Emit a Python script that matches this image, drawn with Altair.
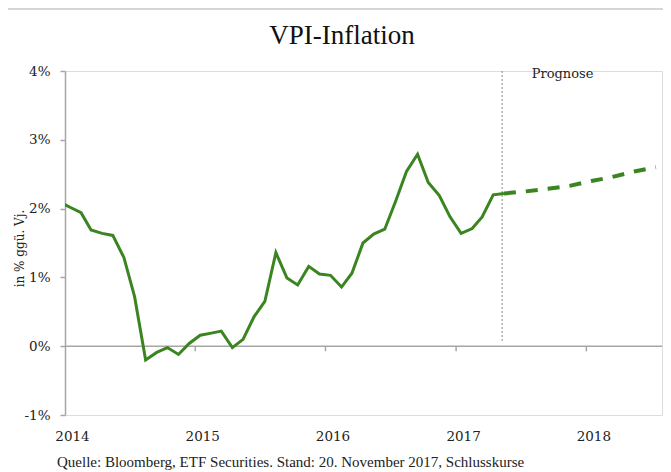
import altair as alt
import pandas as pd

# ---------------- data ----------------
actual_months = [
    "2013-12", "2014-01", "2014-02", "2014-03", "2014-04", "2014-05", "2014-06",
    "2014-07", "2014-08", "2014-09", "2014-10", "2014-11", "2014-12",
    "2015-01", "2015-02", "2015-03", "2015-04", "2015-05", "2015-06",
    "2015-07", "2015-08", "2015-09", "2015-10", "2015-11", "2015-12",
    "2016-01", "2016-02", "2016-03", "2016-04", "2016-05", "2016-06",
    "2016-07", "2016-08", "2016-09", "2016-10", "2016-11", "2016-12",
    "2017-01", "2017-02", "2017-03", "2017-04", "2017-05",
]
actual_values = [
    2.10, 2.02, 1.94, 1.69, 1.64, 1.61, 1.29, 0.72, -0.20, -0.09, -0.02, -0.12,
    0.04, 0.16, 0.19, 0.22, -0.02, 0.10, 0.43, 0.65, 1.36, 0.99, 0.89, 1.16,
    1.05, 1.03, 0.86, 1.06, 1.50, 1.63, 1.70, 2.10, 2.54, 2.79, 2.38, 2.19,
    1.88, 1.64, 1.71, 1.88, 2.20, 2.22,
]
forecast_months = ["2017-05", "2017-07", "2017-09", "2017-11", "2018-01",
                   "2018-03", "2018-05", "2018-07"]
forecast_values = [2.22, 2.25, 2.29, 2.33, 2.40, 2.46, 2.54, 2.60]

year_labels = ["2014", "2015", "2016", "2017", "2018"]
y_ticks = [-1, 0, 1, 2, 3, 4]
forecast_start = "2017-05-10"

title_text = "VPI-Inflation"
y_title = "in % ggü. Vj."
forecast_label = "Prognose"
source_text = "Quelle: Bloomberg, ETF Securities. Stand: 20. November 2017, Schlusskurse"

# ---------------- tables ----------------
df_actual = pd.DataFrame({"datum": [m + "-15" for m in actual_months], "wert": actual_values})
df_forecast = pd.DataFrame({"datum": [m + "-15" for m in forecast_months], "wert": forecast_values})
df_years = pd.DataFrame({"datum": [y + "-01-01" for y in year_labels[1:]]})
df_one = pd.DataFrame({"datum": [forecast_start]})

GREEN = "#3a8520"
GREY = "#a6a6a6"
W, H = 597, 344

x_scale = alt.Scale(domain=[alt.DateTime(year=2014, month=1, date=1),
                            alt.DateTime(year=2018, month=8, date=1)])
y_scale = alt.Scale(domain=[-1, 4], nice=False, zero=False)

x_axis = alt.Axis(
    values=[alt.DateTime(year=int(y), month=1, date=1) for y in year_labels],
    format="%Y", domain=False, ticks=False, tickSize=0, grid=False,
    labelFont="DejaVu Serif", labelFontSize=13.5, labelColor="#222",
    labelPadding=14, labelOffset=7, labelAlign="center", labelFlush=False, title=None,
)
y_axis = alt.Axis(
    values=y_ticks, labelExpr="datum.value + '%'", grid=False,
    domainColor=GREY, domainWidth=1.5, tickColor=GREY, tickWidth=1.5, tickSize=5,
    labelFont="DejaVu Serif", labelFontSize=13.5, labelColor="#222", labelPadding=10,
    title=y_title, titleFont="DejaVu Serif", titleFontSize=12, titleFontWeight="normal",
    titleColor="#222", titleX=-46, titleY=177, titleAngle=270,
    titleAlign="center", titleBaseline="middle",
)

line_actual = alt.Chart(df_actual).mark_line(
    color=GREEN, strokeWidth=3, clip=True
).encode(
    x=alt.X("datum:T", scale=x_scale, axis=x_axis),
    y=alt.Y("wert:Q", scale=y_scale, axis=y_axis),
)

line_forecast = alt.Chart(df_forecast).mark_line(
    color=GREEN, strokeWidth=4, strokeDash=[12, 10], clip=True
).encode(x="datum:T", y="wert:Q")

zero_rule = alt.Chart(df_one).mark_rule(color=GREY, strokeWidth=1.5).encode(
    y=alt.datum(0)
)
year_ticks = alt.Chart(df_years).mark_rule(color=GREY, strokeWidth=1.5).encode(
    x="datum:T", y=alt.datum(0), y2=alt.datum(-0.075)
)
vline = alt.Chart(df_one).mark_rule(color="#888", strokeWidth=1, strokeDash=[2, 2]).encode(
    x="datum:T", y=alt.datum(4), y2=alt.datum(0.06)
)
prognose = alt.Chart(pd.DataFrame({"datum": ["2017-08-01"], "t": [forecast_label]})).mark_text(
    font="DejaVu Serif", fontSize=13, color="#222", align="left", baseline="middle"
).encode(x="datum:T", y=alt.datum(3.95), text="t:N")

title_mark = alt.Chart(df_one).mark_text(
    text=title_text, font="Liberation Serif", fontSize=27, color="#111",
    align="center", baseline="alphabetic"
).encode(x=alt.value(277), y=alt.value(-27))

source_mark = alt.Chart(df_one).mark_text(
    text=source_text, font="Liberation Serif", fontSize=15, color="#222",
    align="left", baseline="middle"
).encode(x=alt.value(-8), y=alt.value(391))

border_left = alt.Chart(df_one).mark_rule(color="#c8c8c8", strokeWidth=1.5).encode(
    x=alt.value(-58.5), y=alt.value(-62), y2=alt.value(420)
)
border_top = alt.Chart(df_one).mark_rule(color="#c8c8c8", strokeWidth=1.5).encode(
    x=alt.value(-58.5), x2=alt.value(620), y=alt.value(-62)
)

chart = alt.layer(
    border_left, border_top, zero_rule, year_ticks, vline,
    line_actual, line_forecast, prognose, title_mark, source_mark,
).properties(
    width=W, height=H,
    autosize=alt.AutoSizeParams(type="none"),
    padding={"left": 57, "top": 63, "right": 1, "bottom": 57},
).configure_view(stroke=None).configure(background="white")

chart.save("out.html", embed_options={"renderer": "svg", "actions": False})
